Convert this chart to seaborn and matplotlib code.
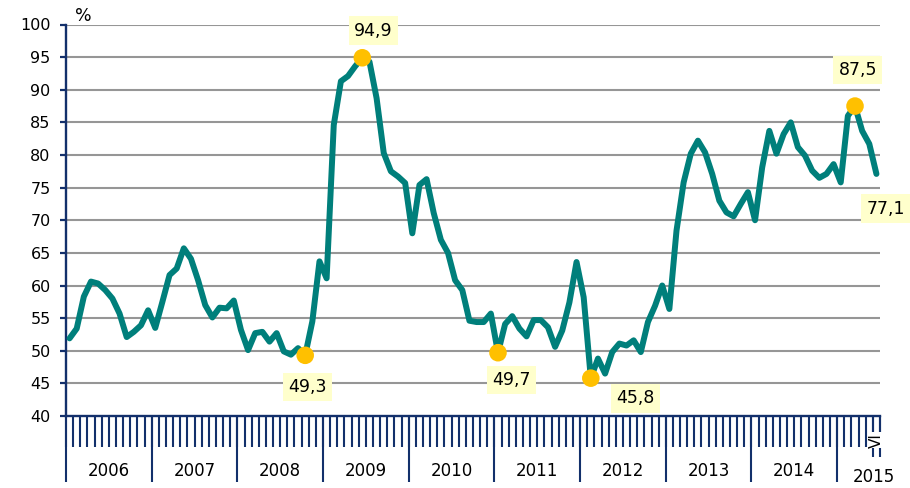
import matplotlib
matplotlib.use("Agg")
import matplotlib.pyplot as plt
import numpy as np
import pandas as pd
import seaborn as sns

# monthly values, Jan 2006 - Jun 2015 (%)
years = [2006, 2007, 2008, 2009, 2010, 2011, 2012, 2013, 2014, 2015]
v2006 = [51.9, 53.4, 58.3, 60.6, 60.3, 59.3, 58.0, 55.7, 52.1, 52.9, 53.9, 56.2]
v2007 = [53.5, 57.5, 61.6, 62.6, 65.7, 64.1, 60.8, 57.0, 55.1, 56.6, 56.5, 57.7]
v2008 = [53.2, 50.1, 52.7, 52.9, 51.4, 52.7, 49.9, 49.4, 50.4, 49.3, 54.5, 63.7]
v2009 = [61.1, 84.6, 91.3, 92.1, 93.6, 94.9, 94.3, 88.7, 80.3, 77.5, 76.7, 75.7]
v2010 = [68.0, 75.4, 76.3, 71.1, 67.0, 65.0, 60.8, 59.3, 54.6, 54.4, 54.4, 55.7]
v2011 = [49.7, 54.1, 55.3, 53.4, 52.2, 54.7, 54.7, 53.6, 50.6, 53.1, 57.4, 63.6]
v2012 = [58.2, 45.8, 48.8, 46.5, 49.8, 51.1, 50.8, 51.6, 49.8, 54.4, 56.9, 60.0]
v2013 = [56.4, 68.4, 75.8, 80.2, 82.2, 80.4, 77.1, 73.0, 71.2, 70.6, 72.5, 74.3]
v2014 = [70.0, 78.1, 83.7, 80.2, 83.2, 85.0, 81.2, 79.9, 77.6, 76.5, 77.1, 78.6]
v2015 = [75.8, 86.0, 87.5, 83.7, 81.7, 77.1]
last_month_label = "VI"

values = v2006 + v2007 + v2008 + v2009 + v2010 + v2011 + v2012 + v2013 + v2014 + v2015

# months marked with a dot and labelled, plus the last month (label only)
highlight = [33, 41, 60, 73, 110]
labelled = highlight + [len(values) - 1]

LINE = "#007f7b"
DOT = "#ffc000"
NAVY = "#13306b"
GRID = "#969696"
BOX = "#ffffcc"

sns.set_style("white")
plt.rcParams["font.family"] = ["DejaVu Sans"]
plt.rcParams["text.color"] = "black"
plt.rcParams["ytick.labelcolor"] = "black"

df = pd.DataFrame({"month": np.arange(len(values)), "value": values})

fig = plt.figure(figsize=(9.1, 4.88), dpi=100)
ax = fig.add_axes([66 / 910, 1 - 416 / 488, 814 / 910, 391.5 / 488])

for y in range(45, 101, 5):
    ax.axhline(y, color=GRID, lw=1.5, zorder=0)

sns.lineplot(data=df, x="month", y="value", color=LINE, lw=4.3, ax=ax, zorder=3)
sns.scatterplot(data=df.iloc[highlight], x="month", y="value", color=DOT, s=160,
                edgecolor="none", ax=ax, zorder=4)

# label offsets in points
offsets = {33: (1.5, -23), 41: (8, 19.5), 60: (10, -19.5), 73: (32, -14.5),
           110: (2, 26), 113: (6.5, -25)}
for i in labelled:
    txt = f"{values[i]:.1f}".replace(".", ",")
    ax.annotate(txt, (i, values[i]), xytext=offsets[i], textcoords="offset points",
                ha="center", va="center", fontsize=12.5, zorder=5,
                bbox=dict(boxstyle="square,pad=0.3", fc=BOX, ec="none"))

n = len(values)
ax.set_xlim(-0.5, n - 0.5)
ax.set_ylim(40, 100)
ax.set_xlabel("")
ax.set_ylabel("")
ax.set_yticks(range(40, 101, 5))

for s in ["top", "right"]:
    ax.spines[s].set_visible(False)
for s in ["left", "bottom"]:
    ax.spines[s].set_color(NAVY)
    ax.spines[s].set_linewidth(1.7)

ax.tick_params(axis="y", which="major", direction="out", length=4, width=1.6,
               color=NAVY, labelsize=11.5, pad=7, left=True)

# month ticks on the category axis
ax.set_xticks([])
ax.set_xticks(np.arange(-0.5, n, 1.0), minor=True)
ax.tick_params(axis="x", which="minor", direction="out", length=22, width=1.5,
               color=NAVY, bottom=True, labelbottom=False)

tr = ax.get_xaxis_transform()
year_starts = np.arange(0, n, 12) - 0.5
ax.vlines(year_starts, -0.1686, 0, transform=tr, colors=NAVY, lw=1.5, clip_on=False)
ax.vlines([n - 1.5, n - 0.5], -0.105, 0, transform=tr, colors=NAVY, lw=1.5, clip_on=False)

for k, yr in enumerate(years[:-1]):
    ax.text(12 * k + 5.5, -0.1405, str(yr), transform=tr, ha="center", va="center",
            fontsize=12)
ax.text(n - 1.3, -0.156, str(years[-1]), transform=tr, ha="center", va="center",
        fontsize=12)
ax.text(n - 1.0, -0.062, last_month_label, transform=tr, ha="center", va="center",
        fontsize=11, rotation=90, zorder=6,
        bbox=dict(boxstyle="square,pad=0.05", fc="white", ec="none"))

fig.text(83 / 910, 1 - 16 / 488, "%", ha="center", va="center", fontsize=12.5)

fig.savefig("out.png", dpi=100)
